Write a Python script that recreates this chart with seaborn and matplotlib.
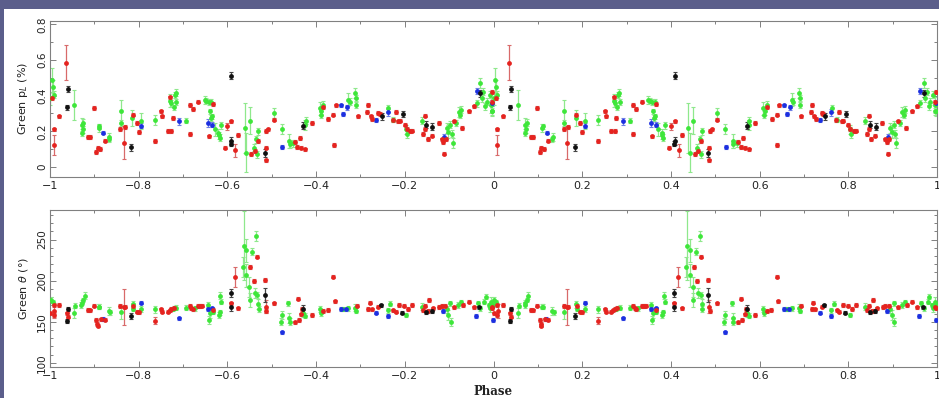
import numpy as np
import pandas as pd
import matplotlib
matplotlib.use("Agg")
import matplotlib.pyplot as plt
import seaborn as sns
from matplotlib.patches import Rectangle
from matplotlib.ticker import MultipleLocator, FixedLocator, FixedFormatter
from matplotlib.transforms import Bbox

# ---------------------------------------------------------------- data
# Folded phase (0..1); every point is drawn twice, at phase-1 and phase.

# Polarisation degree p_L (%) -------------------------------------------
green_ph_p = [0.995, 0.000, 0.004, 0.006, 0.997, 0.008, 0.055, 0.072, 0.074, 0.072,
              0.075, 0.110, 0.111, 0.134, 0.133, 0.160, 0.160, 0.185, 0.206, 0.236,
              0.271, 0.273, 0.283, 0.281, 0.285, 0.279, 0.307, 0.349, 0.352, 0.358,
              0.364, 0.360, 0.365, 0.362, 0.371, 0.379, 0.383, 0.386, 0.381, 0.439,
              0.443, 0.450, 0.459, 0.465, 0.469, 0.467, 0.505, 0.522, 0.539, 0.541,
              0.548, 0.575, 0.577, 0.608, 0.612, 0.616, 0.610, 0.672, 0.676, 0.688,
              0.691, 0.690, 0.763, 0.774, 0.803, 0.806, 0.838, 0.895, 0.898, 0.902,
              0.906, 0.908, 0.916, 0.922, 0.927, 0.925, 0.970, 0.977, 0.974, 0.985,
              0.992, 0.996, 0.981, 0.962]
green_p = [0.349, 0.386, 0.488, 0.451, 0.312, 0.404, 0.349, 0.237, 0.210, 0.191,
           0.247, 0.219, 0.228, 0.167, 0.154, 0.312, 0.247, 0.275, 0.256, 0.265,
           0.371, 0.358, 0.417, 0.404, 0.364, 0.334, 0.260, 0.377, 0.371, 0.364,
           0.367, 0.312, 0.284, 0.275, 0.210, 0.191, 0.163, 0.234, 0.178, 0.219,
           0.080, 0.260, 0.108, 0.154, 0.200, 0.071, 0.302, 0.215, 0.145, 0.126,
           0.132, 0.237, 0.260, 0.330, 0.312, 0.349, 0.293, 0.377, 0.367, 0.414,
           0.386, 0.349, 0.330, 0.265, 0.210, 0.182, 0.260, 0.219, 0.197, 0.237,
           0.186, 0.135, 0.247, 0.308, 0.321, 0.293, 0.469, 0.423, 0.386, 0.367,
           0.404, 0.312, 0.340, 0.358]
green_p_err = [0.046, 0.037, 0.065, 0.037, 0.028, 0.020, 0.083, 0.037, 0.020, 0.020,
               0.020, 0.022, 0.015, 0.022, 0.015, 0.065, 0.019, 0.046, 0.046, 0.028,
               0.037, 0.020, 0.019, 0.015, 0.015, 0.015, 0.015, 0.022, 0.015, 0.015,
               0.015, 0.015, 0.015, 0.015, 0.037, 0.020, 0.020, 0.020, 0.020, 0.140,
               0.110, 0.074, 0.019, 0.020, 0.020, 0.020, 0.028, 0.028, 0.037, 0.020,
               0.020, 0.028, 0.020, 0.037, 0.020, 0.020, 0.020, 0.037, 0.020, 0.028,
               0.020, 0.020, 0.019, 0.015, 0.028, 0.020, 0.019, 0.028, 0.037, 0.020,
               0.020, 0.028, 0.019, 0.028, 0.020, 0.020, 0.028, 0.020, 0.020, 0.020,
               0.020, 0.020, 0.020, 0.020]

red_ph_p = [0.997, 0.005, 0.008, 0.008, 0.021, 0.036, 0.085, 0.090, 0.099, 0.104,
            0.108, 0.113, 0.123, 0.158, 0.166, 0.169, 0.187, 0.196, 0.200, 0.236,
            0.251, 0.253, 0.266, 0.273, 0.271, 0.277, 0.315, 0.322, 0.334, 0.315,
            0.367, 0.358, 0.395, 0.400, 0.409, 0.418, 0.424, 0.454, 0.462, 0.468,
            0.486, 0.486, 0.488, 0.492, 0.505, 0.552, 0.557, 0.563, 0.567, 0.575,
            0.590, 0.616, 0.627, 0.639, 0.640, 0.644, 0.694, 0.718, 0.715, 0.723,
            0.727, 0.740, 0.744, 0.773, 0.780, 0.785, 0.789, 0.800, 0.804, 0.812,
            0.817, 0.842, 0.846, 0.846, 0.852, 0.861, 0.876, 0.883, 0.887, 0.889,
            0.892, 0.911, 0.930, 0.944, 0.956, 0.996]
red_p = [0.419, 0.386, 0.210, 0.122, 0.284, 0.586, 0.169, 0.169, 0.330, 0.085,
         0.108, 0.102, 0.148, 0.213, 0.135, 0.224, 0.293, 0.247, 0.197, 0.145,
         0.312, 0.284, 0.200, 0.200, 0.390, 0.275, 0.349, 0.325, 0.367, 0.186,
         0.353, 0.171, 0.108, 0.228, 0.256, 0.093, 0.178, 0.071, 0.089, 0.145,
         0.108, 0.037, 0.200, 0.210, 0.265, 0.139, 0.111, 0.163, 0.108, 0.098,
         0.247, 0.334, 0.269, 0.293, 0.122, 0.345, 0.284, 0.347, 0.308, 0.284,
         0.269, 0.302, 0.297, 0.263, 0.308, 0.256, 0.260, 0.237, 0.213, 0.200,
         0.204, 0.186, 0.288, 0.213, 0.158, 0.176, 0.247, 0.154, 0.139, 0.074,
         0.158, 0.256, 0.219, 0.312, 0.340, 0.364]
red_p_err = [0.010, 0.010, 0.010, 0.056, 0.010, 0.100, 0.010, 0.010, 0.010, 0.010,
             0.010, 0.010, 0.010, 0.010, 0.093, 0.010, 0.010, 0.010, 0.010, 0.010,
             0.010, 0.010, 0.010, 0.010, 0.010, 0.010, 0.010, 0.010, 0.010, 0.010,
             0.010, 0.010, 0.010, 0.019, 0.010, 0.037, 0.010, 0.010, 0.010, 0.010,
             0.010, 0.010, 0.010, 0.010, 0.010, 0.010, 0.010, 0.010, 0.010, 0.010,
             0.010, 0.010, 0.010, 0.010, 0.010, 0.010, 0.010, 0.010, 0.010, 0.010,
             0.010, 0.010, 0.010, 0.010, 0.010, 0.010, 0.010, 0.010, 0.010, 0.010,
             0.010, 0.010, 0.010, 0.010, 0.010, 0.010, 0.010, 0.010, 0.010, 0.010,
             0.010, 0.010, 0.010, 0.010, 0.010, 0.010]

black_ph_p = [0.040, 0.038, 0.183, 0.409, 0.409, 0.407, 0.484, 0.571, 0.748, 0.795,
              0.848, 0.862, 0.970]
black_p = [0.438, 0.334, 0.111, 0.512, 0.145, 0.130, 0.080, 0.232, 0.284, 0.297,
           0.237, 0.226, 0.414]
black_p_err = [0.015, 0.015, 0.019, 0.019, 0.022, 0.015, 0.022, 0.022, 0.019, 0.019,
               0.019, 0.019, 0.019]

blue_ph_p = [0.997, 0.120, 0.206, 0.291, 0.356, 0.366, 0.524, 0.656, 0.661, 0.669,
             0.736, 0.761, 0.889, 0.962]
blue_p = [0.358, 0.193, 0.232, 0.256, 0.247, 0.237, 0.113, 0.345, 0.297, 0.334,
          0.262, 0.306, 0.167, 0.427]
blue_p_err = [0.015, 0.010, 0.015, 0.019, 0.022, 0.015, 0.010, 0.010, 0.010, 0.015,
              0.010, 0.019, 0.019, 0.015]

# Polarisation angle theta (deg) -----------------------------------------
green_ph_t = [0.995, 0.998, 0.002, 0.006, 0.055, 0.057, 0.070, 0.075, 0.078, 0.072,
              0.110, 0.111, 0.133, 0.136, 0.160, 0.187, 0.188, 0.206, 0.236, 0.277,
              0.285, 0.307, 0.326, 0.356, 0.360, 0.358, 0.367, 0.380, 0.384, 0.386,
              0.383, 0.435, 0.437, 0.443, 0.443, 0.456, 0.449, 0.450, 0.465, 0.462,
              0.467, 0.469, 0.471, 0.522, 0.520, 0.537, 0.539, 0.541, 0.571, 0.575,
              0.608, 0.610, 0.661, 0.672, 0.688, 0.691, 0.761, 0.767, 0.803, 0.838,
              0.895, 0.898, 0.904, 0.902, 0.921, 0.927, 0.964, 0.970, 0.979, 0.983,
              0.989, 0.992]
green_t = [174.5, 170.4, 176.5, 173.7, 160.3, 169.6, 170.4, 176.5, 181.8, 173.3,
           168.4, 168.4, 163.2, 161.5, 161.5, 171.3, 165.6, 165.6, 165.2, 165.6,
           167.2, 167.2, 166.4, 170.4, 160.3, 152.2, 162.3, 158.3, 181.8, 174.5,
           161.5, 217.0, 242.5, 237.2, 206.9, 235.2, 192.7, 176.5, 254.7, 184.6,
           182.6, 171.7, 165.6, 158.3, 150.2, 172.5, 154.3, 150.2, 160.3, 157.5,
           165.6, 160.3, 165.6, 166.4, 167.2, 163.2, 164.0, 171.7, 158.3, 168.4,
           165.2, 158.3, 150.2, 172.5, 170.4, 173.7, 172.5, 166.4, 174.5, 180.6,
           170.4, 166.4]
green_t_err = [6, 3, 4, 3, 6, 3, 4, 3, 4, 3,
               3, 3, 5, 3, 8, 4, 3, 4, 4, 3,
               3, 3, 3, 4, 6, 5, 3, 4, 4, 3,
               3, 12, 42, 14, 14, 4, 12, 8, 6, 6,
               4, 6, 4, 5, 4, 3, 6, 4, 4, 3,
               4, 3, 3, 3, 4, 3, 3, 3, 3, 4,
               4, 6, 5, 3, 4, 3, 3, 3, 3, 3,
               3, 4]

red_ph_t = [0.997, 0.008, 0.010, 0.008, 0.000, 0.021, 0.038, 0.040, 0.085, 0.090,
            0.099, 0.104, 0.106, 0.108, 0.115, 0.123, 0.158, 0.166, 0.169, 0.188,
            0.196, 0.200, 0.236, 0.251, 0.253, 0.266, 0.270, 0.273, 0.279, 0.315,
            0.319, 0.322, 0.334, 0.339, 0.343, 0.367, 0.407, 0.424, 0.417, 0.452,
            0.459, 0.467, 0.484, 0.486, 0.488, 0.505, 0.552, 0.559, 0.561, 0.567,
            0.569, 0.590, 0.616, 0.626, 0.639, 0.642, 0.693, 0.718, 0.721, 0.725,
            0.740, 0.774, 0.780, 0.787, 0.799, 0.808, 0.817, 0.842, 0.846, 0.855,
            0.853, 0.864, 0.878, 0.883, 0.891, 0.911, 0.932, 0.944, 0.955, 0.996]
red_t = [166.4, 170.4, 163.2, 158.3, 160.3, 170.4, 160.3, 156.3, 164.4, 164.0,
         169.6, 152.2, 147.4, 145.3, 153.0, 152.6, 169.2, 168.4, 168.4, 169.2,
         162.3, 161.5, 151.4, 165.2, 162.3, 162.3, 164.0, 165.6, 167.2, 169.2,
         166.4, 165.6, 169.2, 169.2, 169.6, 164.4, 172.5, 166.4, 204.9, 216.6,
         199.6, 229.1, 200.8, 168.4, 163.2, 172.5, 149.4, 178.1, 152.2, 159.1,
         165.6, 158.3, 163.2, 164.4, 204.9, 174.9, 169.6, 165.6, 173.3, 165.2,
         168.4, 164.0, 162.3, 170.4, 169.6, 165.6, 170.4, 164.4, 169.6, 176.5,
         163.2, 166.4, 168.0, 169.2, 169.6, 167.6, 170.4, 174.5, 167.6, 168.4]
red_t_err = [2, 2, 8, 2, 2, 2, 2, 2, 2, 2,
             2, 2, 2, 2, 2, 2, 2, 22, 2, 2,
             2, 2, 4, 2, 2, 2, 2, 2, 2, 2,
             2, 2, 2, 2, 2, 2, 2, 2, 12, 2,
             2, 2, 2, 8, 2, 2, 2, 2, 2, 2,
             2, 2, 2, 2, 2, 2, 2, 2, 2, 2,
             2, 2, 2, 2, 2, 2, 2, 2, 2, 2,
             2, 2, 2, 2, 2, 2, 2, 2, 2, 2]

black_ph_t = [0.040, 0.038, 0.183, 0.407, 0.407, 0.484, 0.571, 0.746, 0.793, 0.848,
              0.861, 0.968]
black_t = [165.6, 151.0, 157.1, 184.6, 168.4, 182.6, 165.2, 170.0, 161.1, 161.5,
           163.2, 167.6]
black_t_err = [2, 2, 4, 5, 5, 8, 5, 2, 2, 2, 2, 2]

blue_ph_t = [0.998, 0.119, 0.206, 0.291, 0.356, 0.366, 0.523, 0.656, 0.667, 0.736,
             0.761, 0.887, 0.960]
blue_t = [152.2, 153.4, 173.3, 154.3, 165.6, 166.4, 137.2, 165.6, 165.2, 161.1,
          157.1, 163.2, 157.1]
blue_t_err = [2, 2, 2, 2, 2, 2, 2, 2, 2, 2, 2, 2, 2]

# axis ticks and labels
x_ticks = [-1, -0.8, -0.6, -0.4, -0.2, 0, 0.2, 0.4, 0.6, 0.8, 1]
x_tick_labels = ["\u22121", "\u22120.8", "\u22120.6", "\u22120.4", "\u22120.2", "0",
                 "0.2", "0.4", "0.6", "0.8", "1"]
p_ticks = [0, 0.2, 0.4, 0.6, 0.8]
p_tick_labels = ["0", "0.2", "0.4", "0.6", "0.8"]
t_ticks = [100, 150, 200, 250]
t_tick_labels = ["100", "150", "200", "250"]

# ---------------------------------------------------------------- style
sns.set_theme(style="ticks")
plt.rcParams["font.family"] = ["DejaVu Sans"]

COLORS = {
    "green": ("#3ee63a", "#8fe88c"),
    "red":   ("#e5231f", "#d86a6a"),
    "blue":  ("#1c2fe0", "#6f7fe6"),
    "black": ("#111111", "#444444"),
}


def folded(ph, val, err):
    ph = np.asarray(ph, float) % 1.0
    val = np.asarray(val, float)
    err = np.asarray(err, float)
    return pd.DataFrame({
        "phase": np.concatenate([ph - 1.0, ph]),
        "value": np.concatenate([val, val]),
        "err": np.concatenate([err, err]),
    })


def draw(ax, ph, val, err, name):
    face, bar = COLORS[name]
    df = folded(ph, val, err)
    ax.errorbar(df["phase"], df["value"], yerr=df["err"], fmt="none",
                ecolor=bar, elinewidth=0.9, capsize=1.5, capthick=0.8, zorder=2)
    sns.scatterplot(data=df, x="phase", y="value", ax=ax, color=face, s=12,
                    marker="o", linewidth=0, zorder=3, legend=False)


fig = plt.figure(figsize=(9.39, 3.98), dpi=100, facecolor="#5b5e8b")
fig.patches.append(Rectangle((4 / 939, 0), 1, 1 - 9 / 398, transform=fig.transFigure,
                             facecolor="white", edgecolor="none", zorder=-5))

ax1 = fig.add_axes([50 / 939, 1 - 176.5 / 398, 887 / 939, 156 / 398])
ax2 = fig.add_axes([50 / 939, 1 - 367 / 398, 887 / 939, 157 / 398])

draw(ax1, green_ph_p, green_p, green_p_err, "green")
draw(ax1, blue_ph_p, blue_p, blue_p_err, "blue")
draw(ax1, red_ph_p, red_p, red_p_err, "red")
draw(ax1, black_ph_p, black_p, black_p_err, "black")

draw(ax2, green_ph_t, green_t, green_t_err, "green")
draw(ax2, blue_ph_t, blue_t, blue_t_err, "blue")
draw(ax2, red_ph_t, red_t, red_t_err, "red")
draw(ax2, black_ph_t, black_t, black_t_err, "black")

ax1.set_ylim(-0.054, 0.822)
ax2.set_ylim(95, 286)

for ax, yt, ytl, ymin in ((ax1, p_ticks, p_tick_labels, 0.1),
                          (ax2, t_ticks, t_tick_labels, 10)):
    ax.set_facecolor("white")
    ax.set_xlim(-1, 1)
    ax.xaxis.set_major_locator(FixedLocator(x_ticks))
    ax.xaxis.set_major_formatter(FixedFormatter(x_tick_labels))
    ax.xaxis.set_minor_locator(MultipleLocator(0.1))
    ax.yaxis.set_major_locator(FixedLocator(yt))
    ax.yaxis.set_major_formatter(FixedFormatter(ytl))
    ax.yaxis.set_minor_locator(MultipleLocator(ymin))
    ax.tick_params(which="both", direction="in", top=True, right=True,
                   color="#808080", width=0.7)
    ax.tick_params(which="major", length=4.5, labelsize=8, labelcolor="#222222", pad=3)
    ax.tick_params(which="minor", length=2.5)
    ax.tick_params(axis="y", labelrotation=90, labelsize=7.5, pad=2)
    for lab in ax.get_yticklabels():
        lab.set_va("center")
    for sp in ax.spines.values():
        sp.set_color("#808080")
        sp.set_linewidth(0.8)
    ax.set_xlabel("")

ax1.set_ylabel("Green p$_L$ (%)", fontsize=8, color="#222222", labelpad=5)
ax2.set_ylabel("Green $\\theta$ (\u00b0)", fontsize=8, color="#222222", labelpad=5)

ax2.set_xlabel("Phase", fontsize=8.5, fontfamily="DejaVu Serif", fontweight="bold",
               color="#222222", labelpad=3)

# upper panel's phase label sits under the lower panel; only its top edge shows
top_label = ax1.set_xlabel("Phase", fontsize=8.5, fontfamily="DejaVu Serif",
                           fontweight="bold", color="#222222", labelpad=7)
clip = Bbox.from_extents(0, 398 - 199.5, 939, 398)
top_label.set_clip_box(clip)
top_label.set_clip_on(True)

fig.savefig("out.png", dpi=100, facecolor=fig.get_facecolor())
